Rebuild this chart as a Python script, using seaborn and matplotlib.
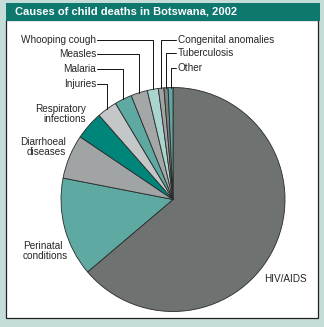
import matplotlib
matplotlib.use("Agg")
import matplotlib.pyplot as plt
import seaborn as sns
import numpy as np
from matplotlib.patches import Rectangle

sns.set_theme(style="white")
plt.rcParams['font.family'] = ['Liberation Sans', 'DejaVu Sans']

title = "Causes of child deaths in Botswana, 2002"
causes = ["HIV/AIDS", "Perinatal\nconditions", "Diarrhoeal\ndiseases", "Respiratory\ninfections",
          "Injuries", "Malaria", "Measles", "Whooping cough", "Congenital anomalies",
          "Tuberculosis", "Other"]
shares = [64.0, 14.3, 6.4, 4.1, 2.9, 2.5, 2.4, 1.6, 0.8, 0.6, 0.7]
colors = ["#6e7270", "#5ea9a1", "#a0a4a4", "#00857b", "#c4c7c7", "#5ea9a1",
          "#a3a7a7", "#aad5cf", "#a0a4a4", "#7e8281", "#5ea9a1"]

W, H = 324, 327
fig = plt.figure(figsize=(W / 100, H / 100), dpi=100)
fig.patch.set_facecolor("#c5ddd9")

def fx(px):
    return px / W

def fy(py):
    return 1 - py / H

# background axes for frame
bg = fig.add_axes([0, 0, 1, 1], zorder=-1)
bg.set_axis_off()
bg.set_xlim(0, W)
bg.set_ylim(H, 0)
bg.add_patch(Rectangle((6, 20), 312, 298, facecolor="white", edgecolor="#222222", linewidth=0.9))
bg.add_patch(Rectangle((6, 3), 314, 18, facecolor="#0e786f", edgecolor="none"))
bg.text(15, 12, title, color="white", fontsize=8, fontweight="bold", ha="left", va="center")

cx, cy, R = 173, 199.5, 112
ax = fig.add_axes([fx(cx - R), fy(cy + R), 2 * R / W, 2 * R / H], zorder=1)
ax.set_axis_off()
ax.patch.set_alpha(0)
wedges, _ = ax.pie(shares, colors=colors, startangle=90, counterclock=False,
                   wedgeprops=dict(edgecolor="#2a2a2a", linewidth=0.6))
ax.set_xlim(-1, 1)
ax.set_ylim(-1, 1)
ax.set_aspect("equal")

def d(px, py):
    return (px - cx) / R, (cy - py) / R

fs = 7.2
mids = [np.deg2rad((w.theta1 + w.theta2) / 2) for w in wedges]

left_lab = {4: 84, 5: 69, 6: 54, 7: 40}
for i, py in left_lab.items():
    mx, my = np.cos(mids[i]), np.sin(mids[i])
    lx, ly = d(97, py)
    ax.plot([lx, mx, mx], [ly, ly, my], color="#111111", lw=0.7, clip_on=False)
    ax.text(lx - 0.01, ly, causes[i], ha="right", va="center", fontsize=fs, clip_on=False)

right_lab = {8: 40, 9: 53, 10: 68}
for i, py in right_lab.items():
    mx, my = np.cos(mids[i]), np.sin(mids[i])
    lx, ly = d(176, py)
    ax.plot([lx, mx, mx], [ly, ly, my], color="#111111", lw=0.7, clip_on=False)
    ax.text(lx + 0.015, ly, causes[i], ha="left", va="center", fontsize=fs, clip_on=False)

x, y = d(86, 114)
ax.text(x, y, causes[3], ha="right", va="center", fontsize=fs, linespacing=1.0, clip_on=False)
x, y = d(66, 147)
ax.text(x, y, causes[2], ha="right", va="center", fontsize=fs, linespacing=1.0, clip_on=False)
x, y = d(23, 251)
ax.text(x, y, causes[1], ha="left", va="center", fontsize=fs, linespacing=1.0, clip_on=False)
x, y = d(264, 279)
ax.text(x, y, causes[0], ha="left", va="center", fontsize=fs, clip_on=False)

fig.savefig("out.png", dpi=100, facecolor=fig.get_facecolor())
